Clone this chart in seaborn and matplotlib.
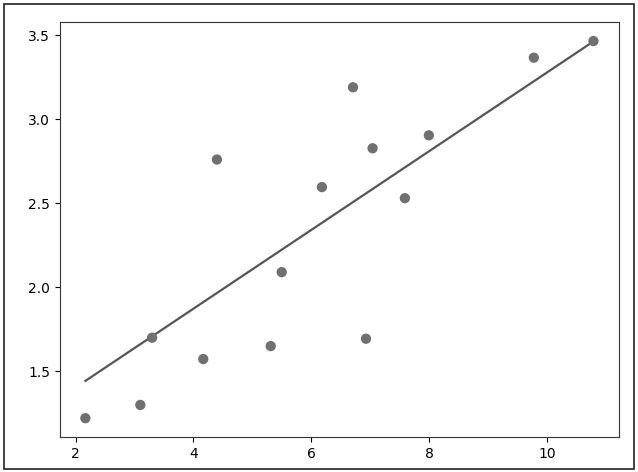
import matplotlib
matplotlib.use("Agg")
import matplotlib.pyplot as plt
import numpy as np
import pandas as pd
import seaborn as sns
from matplotlib.patches import Rectangle

# training data
x_train = [3.3, 4.4, 5.5, 6.71, 6.93, 4.168, 9.779, 6.182, 7.59, 2.167,
           7.042, 10.791, 5.313, 7.997, 3.1]
y_train = [1.7, 2.76, 2.09, 3.19, 1.694, 1.573, 3.366, 2.596, 2.53, 1.221,
           2.827, 3.465, 1.65, 2.904, 1.3]

# fitted model parameters
weight = 0.2342
bias = 0.9355

df = pd.DataFrame({'x': x_train, 'y': y_train})
df['pred'] = weight * df['x'] + bias

fig = plt.figure(figsize=(6.38, 4.72), dpi=100)
ax = fig.add_axes([0.094, 0.074, 0.876, 0.879])

sns.scatterplot(data=df, x='x', y='y', color='#707070', s=55,
                edgecolor='none', ax=ax, zorder=3)
sns.lineplot(data=df, x='x', y='pred', color='#555555', linewidth=1.6,
             ax=ax, zorder=2)

ax.set_xlabel('')
ax.set_ylabel('')
ax.set_xticks([2, 4, 6, 8, 10])
ax.set_yticks([1.5, 2.0, 2.5, 3.0, 3.5])
ax.margins(0.05)
for s in ax.spines.values():
    s.set_color('#333333')

# thin frame round the whole picture
fig.patches.append(Rectangle((4 / 638, 3 / 472), 630 / 638, 465 / 472,
                             transform=fig.transFigure, fill=False,
                             edgecolor='#222222', linewidth=1.2))

fig.savefig('out.png', dpi=100)
